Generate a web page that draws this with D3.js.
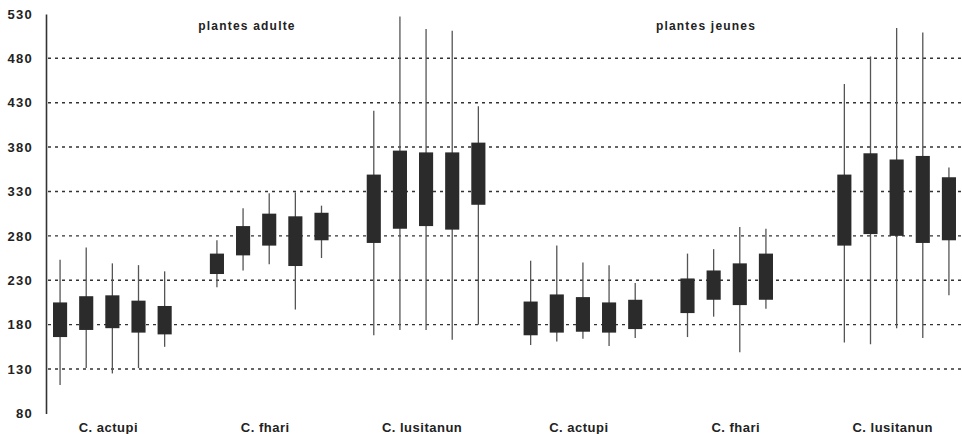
<!DOCTYPE html>
<html>
<head>
<meta charset="utf-8">
<script src="https://cdn.jsdelivr.net/npm/d3@7"></script>
<style>
    body { margin: 0; background: #fff; }
    text { font-family: "Liberation Sans", Arial, sans-serif; font-weight: bold; fill: #222; }
</style>
</head>
<body>
<svg width="962" height="434"></svg>
<script>
// each box: [min, q1, q3, max]
let actupiAdult = [[112, 166, 205, 253], [131, 174, 212, 267], [125, 176, 213, 249], [131, 171, 207, 247], [155, 169, 201, 240]];
let fhariAdult = [[222, 237, 260, 275], [241, 258, 291, 311], [248, 269, 305, 328], [197, 246, 302, 329], [255, 275, 306, 314]];
let lusitanunAdult = [[168, 272, 349, 421], [174, 288, 376, 527], [174, 291, 374, 513], [163, 287, 374, 511], [180, 315, 385, 426]];
let actupiJeunes = [[157, 168, 206, 252], [161, 171, 214, 269], [164, 172, 211, 250], [156, 171, 205, 247], [165, 175, 208, 227]];
let fhariJeunes = [[166, 193, 232, 260], [189, 208, 241, 265], [149, 202, 249, 290], [198, 208, 260, 288]];
let lusitanunJeunes = [[160, 269, 349, 451], [158, 282, 373, 482], [176, 280, 366, 514], [165, 272, 370, 509], [213, 275, 346, 357]];

let groups = [actupiAdult, fhariAdult, lusitanunAdult, actupiJeunes, fhariJeunes, lusitanunJeunes];
let categories = ["C. actupi", "C. fhari", "C. lusitanun", "C. actupi", "C. fhari", "C. lusitanun"];
let panelTitles = ["plantes adulte", "plantes jeunes"];
let yTicks = [80, 130, 180, 230, 280, 330, 380, 430, 480, 530];

let slotsPerGroup = 6; // 5 boxes + 1 gap

let svg = d3.select("svg");

let x = d3.scaleBand()
    .domain(d3.range(groups.length * slotsPerGroup - 1))
    .range([47, 962])
    .paddingInner(0.46)
    .paddingOuter(0.23);

let y = d3.scaleLinear().domain([80, 530]).range([413.4, 13.9]);

// dotted gridlines
svg.append("g")
    .selectAll("line")
    .data(yTicks.filter(d => d > 80 && d < 530))
    .join("line")
    .attr("x1", 48)
    .attr("x2", 962)
    .attr("y1", d => y(d))
    .attr("y2", d => y(d))
    .attr("stroke", "#333")
    .attr("stroke-width", 1.4)
    .attr("stroke-dasharray", "3,4");

// y axis
let yAxis = svg.append("g")
    .attr("transform", "translate(46,0)")
    .call(d3.axisLeft(y).tickValues(yTicks).tickSize(0).tickPadding(13));
yAxis.select(".domain").attr("stroke", "#333").attr("stroke-width", 1.6);
yAxis.selectAll("text")
    .style("font-size", "13px")
    .style("letter-spacing", "1.3px")
    .style("font-family", "'Liberation Sans', Arial, sans-serif")
    .style("font-weight", "bold")
    .attr("fill", "#222");

// boxes
let boxes = [];
groups.forEach((g, gi) => {
    g.forEach((d, i) => boxes.push({slot: gi * slotsPerGroup + i, min: d[0], q1: d[1], q3: d[2], max: d[3]}));
});

let box = svg.append("g")
    .selectAll("g")
    .data(boxes)
    .join("g");

box.append("line")
    .attr("x1", d => x(d.slot) + x.bandwidth() / 2)
    .attr("x2", d => x(d.slot) + x.bandwidth() / 2)
    .attr("y1", d => y(d.max))
    .attr("y2", d => y(d.min))
    .attr("stroke", "#555")
    .attr("stroke-width", 1.3);

box.append("rect")
    .attr("x", d => x(d.slot))
    .attr("width", x.bandwidth())
    .attr("y", d => y(d.q3))
    .attr("height", d => y(d.q1) - y(d.q3))
    .attr("fill", "#2b2b2b");

// category labels
svg.append("g")
    .selectAll("text")
    .data(categories)
    .join("text")
    .attr("x", (d, i) => x(i * slotsPerGroup + 2) + x.bandwidth() / 2 - 4)
    .attr("y", 432)
    .attr("text-anchor", "middle")
    .style("font-size", "13px")
    .style("letter-spacing", "0.5px")
    .text(d => d);

// panel titles
svg.append("g")
    .selectAll("text")
    .data(panelTitles)
    .join("text")
    .attr("x", (d, i) => i === 0 ? 247 : 706)
    .attr("y", 30)
    .attr("text-anchor", "middle")
    .style("font-size", "12px")
    .style("letter-spacing", "1.2px")
    .text(d => d);
</script>
</body>
</html>
